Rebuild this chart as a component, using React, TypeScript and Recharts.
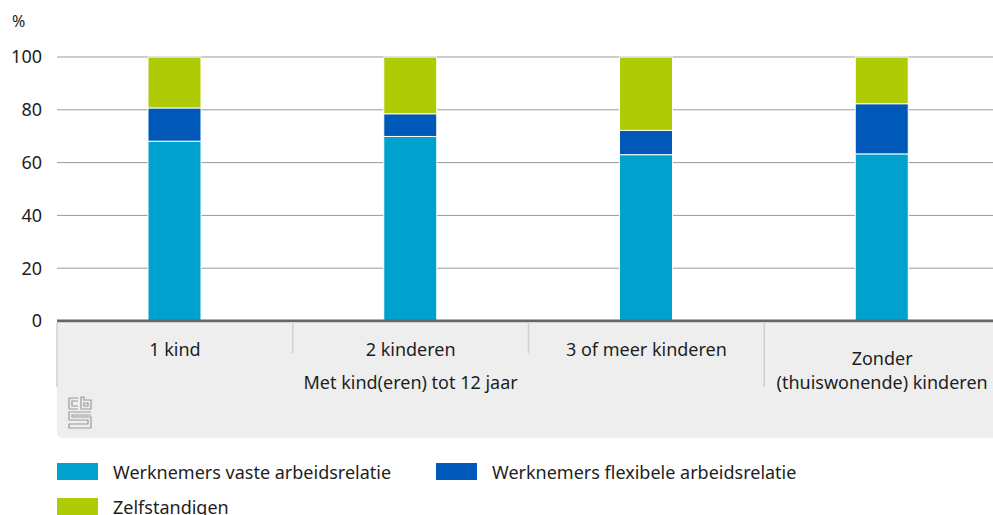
import React from 'react';
import { BarChart, Bar, XAxis, YAxis, CartesianGrid } from 'recharts';

// categories and values (percent of working people)
const categories = ['1 kind', '2 kinderen', '3 of meer kinderen', 'Zonder (thuiswonende) kinderen'];
const categoryLines = [['1 kind'], ['2 kinderen'], ['3 of meer kinderen'], ['Zonder', '(thuiswonende) kinderen']];
const groupLabel = 'Met kind(eren) tot 12 jaar';

const vasteArbeidsrelatie = [68.1, 69.9, 63.0, 63.3];
const flexibeleArbeidsrelatie = [12.6, 8.6, 9.2, 19.0];
const zelfstandigen = [19.3, 21.5, 27.8, 17.7];

const yTicks = [0, 20, 40, 60, 80, 100];

const series = [
  { key: 'vast', name: 'Werknemers vaste arbeidsrelatie', color: '#00a1cd' },
  { key: 'flex', name: 'Werknemers flexibele arbeidsrelatie', color: '#0058b8' },
  { key: 'zelf', name: 'Zelfstandigen', color: '#afcb05' },
];

const data = categories.map((c, i) => ({
  category: c,
  vast: vasteArbeidsrelatie[i],
  flex: flexibeleArbeidsrelatie[i],
  zelf: zelfstandigen[i],
}));

const FONT = '"Noto Sans", sans-serif';
const TEXT = '#1e1e1e';
const FS = 18;
const CHART_W = 1000;
const CHART_H = 440;
const LEFT = 57;
const BAND = (CHART_W - LEFT) / categories.length;

const CbsLogo = ({ x, y }: { x: number; y: number }) => (
  <g transform={`translate(${x},${y})`} fill="none" stroke="#9a9a9a" strokeWidth={1.2}>
    <path d="M10,1 H1 V12 H10 M10,4 H4 V9 H10" />
    <path d="M13,0 V12 H23 V3 H16 V0 Z M16,6 H20 V9 H16 Z" />
    <path d="M23,15 H1 V23 H20 V27 H1 V31 H23 V20 H4 V18 H23" />
  </g>
);

const CategoryTick = (props: any) => {
  const { x, y, index } = props;
  const top = y + 1.5;
  const h = 115.5;
  const left = x - BAND / 2;
  const right = x + BAND / 2;
  const lines = categoryLines[index] || [];
  const multi = lines.length > 1;
  return (
    <g>
      {index === 0 ? (
        <path d={`M${left},${top} H${right + 1} V${top + h} H${left + 6} Q${left},${top + h} ${left},${top + h - 6} Z`} fill="#eeeeee" />
      ) : (
        <rect x={left - 1} y={top} width={BAND + 2} height={h} fill="#eeeeee" />
      )}
      {index === 0 && <line x1={left} x2={left} y1={top} y2={y + 66} stroke="#cfcfcf" strokeWidth={1.5} />}
      {index > 0 && (
        <line x1={left} x2={left} y1={top} y2={index === 3 ? y + 66 : y + 32} stroke="#cfcfcf" strokeWidth={1.5} />
      )}
      {lines.map((l, i) => (
        <text
          key={i}
          x={x}
          y={y + (multi ? 37 : 28) + i * 24}
          textAnchor="middle"
          dominantBaseline="central"
          fontSize={FS}
          fontFamily={FONT}
          fill={TEXT}
        >
          {l}
        </text>
      ))}
      {index === 1 && (
        <text x={x} y={y + 61} textAnchor="middle" dominantBaseline="central" fontSize={FS} fontFamily={FONT} fill={TEXT}>
          {groupLabel}
        </text>
      )}
      {index === 0 && <CbsLogo x={left + 11} y={y + 76} />}
    </g>
  );
};

export default function App() {
  return (
    <div style={{ position: 'fixed', left: 0, top: 0, width: 993, height: 515, overflow: 'hidden', background: '#fff', fontFamily: FONT }}>
      <div style={{ position: 'absolute', left: 12, top: 10, fontSize: 16, color: TEXT }}>%</div>
      <BarChart width={CHART_W} height={CHART_H} data={data} margin={{ top: 57, right: 0, bottom: 0, left: 0 }} barSize={53}>
        <CartesianGrid vertical={false} stroke="#999" strokeWidth={1} />
        <YAxis
          domain={[0, 100]}
          ticks={yTicks}
          width={LEFT}
          axisLine={false}
          tickLine={false}
          tickSize={0}
          tickMargin={15}
          tick={{ fontSize: FS, fill: TEXT, fontFamily: FONT }}
        />
        <XAxis
          dataKey="category"
          height={CHART_H - 57 - 264}
          interval={0}
          tickLine={false}
          tickSize={0}
          tickMargin={0}
          axisLine={{ stroke: '#666', strokeWidth: 3 }}
          tick={<CategoryTick />}
        />
        {series.map((s) => (
          <Bar key={s.key} dataKey={s.key} name={s.name} stackId="a" fill={s.color} stroke="#fff" strokeWidth={1} isAnimationActive={false} />
        ))}
      </BarChart>
      {series.map((s, i) => {
        const col = i % 2;
        const row = Math.floor(i / 2);
        return (
          <div key={s.key} style={{ position: 'absolute', left: 57 + col * 379, top: 463 + row * 35, display: 'flex', alignItems: 'center', height: 17 }}>
            <div style={{ width: 41, height: 17, background: s.color, flexShrink: 0 }} />
            <span style={{ marginLeft: 15, fontSize: FS, color: TEXT, whiteSpace: 'nowrap' }}>{s.name}</span>
          </div>
        );
      })}
    </div>
  );
}
